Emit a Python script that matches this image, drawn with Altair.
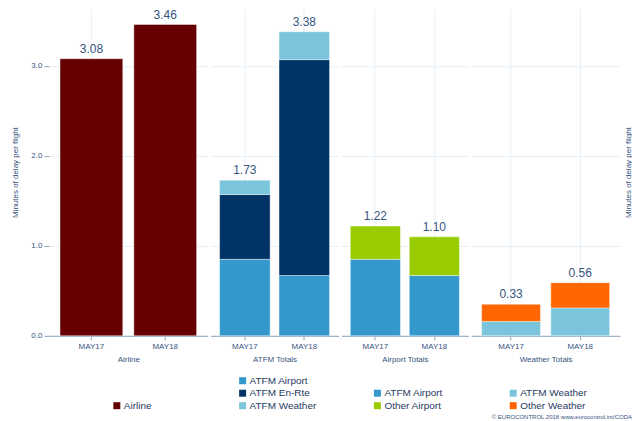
import altair as alt
import pandas as pd

periods = ["MAY17", "MAY18"]
groups = ["Airline", "ATFM Totals", "Airport Totals", "Weather Totals"]

airline = [3.08, 3.46]
atfm_airport = [0.85, 0.67]
atfm_enroute = [0.72, 2.40]
atfm_weather = [0.16, 0.31]
other_airport = [0.37, 0.43]
other_weather = [0.19, 0.28]

airline_labels = [3.08, 3.46]
atfm_labels = [1.73, 3.38]
airport_labels = [1.22, 1.10]
weather_labels = [0.33, 0.56]

C_AIRLINE = "#660000"
C_ATFM_APT = "#3399cc"
C_ENRTE = "#003366"
C_ATFM_WX = "#7ac5dc"
C_OTH_APT = "#99cc00"
C_OTH_WX = "#ff6600"

TXT = "#36547e"
AXC = "#8ea3bd"
GRID = "#e6f0f8"
FONT = "Liberation Sans"


def panel(group, comps, labels, width, legend_x, legend_y, first=False, last=False):
    rows = []
    for i, (name, vals, _c) in enumerate(comps):
        for p, v in zip(periods, vals):
            rows.append({"period": p, "component": name, "value": v, "order": i})
    df = pd.DataFrame(rows)
    tot = df.groupby("period")["value"].sum()
    ldf = pd.DataFrame({"period": periods,
                        "top": [tot[p] for p in periods],
                        "label": labels})

    xenc = alt.X("period:N",
                 scale=alt.Scale(domain=periods, paddingInner=0.15, paddingOuter=0.15),
                 axis=alt.Axis(title=group, labelAngle=0, labelFontSize=8,
                               titleFontSize=8, titleFontWeight="normal",
                               labelColor=TXT, titleColor=TXT,
                               tickSize=4, tickColor=AXC, domainColor=AXC,
                               labelPadding=3, titlePadding=5,
                               grid=True, gridColor=GRID, bandPosition=0.5))
    yscale = alt.Scale(domain=[0, 3.64], nice=False)
    if first:
        yaxis = alt.Axis(values=[0, 1, 2, 3], format=".1f",
                         title="Minutes of delay per flight",
                         titleFontSize=8, titleFontWeight="normal", titleColor=TXT,
                         labelFontSize=8, labelColor=TXT, labelPadding=2,
                         domain=False, tickSize=5, tickColor=AXC,
                         grid=True, gridColor=GRID, titlePadding=11)
    elif last:
        yaxis = alt.Axis(values=[0, 1, 2, 3], orient="right",
                         title="Minutes of delay per flight",
                         titleFontSize=8, titleFontWeight="normal", titleColor=TXT,
                         titleAngle=270, titlePadding=12,
                         labels=False, ticks=False, domain=False,
                         grid=True, gridColor=GRID)
    else:
        yaxis = alt.Axis(values=[0, 1, 2, 3], title=None,
                         labels=False, ticks=False, domain=False,
                         grid=True, gridColor=GRID)

    bars = alt.Chart(df).mark_bar(stroke="white", strokeWidth=0.6, strokeOpacity=0.7).encode(
        x=xenc,
        y=alt.Y("value:Q", stack="zero", scale=yscale, axis=yaxis),
        color=alt.Color("component:N",
                        scale=alt.Scale(domain=[c[0] for c in comps],
                                        range=[c[2] for c in comps]),
                        legend=alt.Legend(orient="none", legendX=legend_x, legendY=legend_y,
                                          title=None, symbolType="square", symbolSize=49,
                                          symbolStrokeWidth=0, labelFontSize=10,
                                          labelColor="#1f3a60", labelFont=FONT,
                                          rowPadding=2.5, padding=0, labelOffset=2)),
        order=alt.Order("order:Q"),
    )
    text = alt.Chart(ldf).mark_text(fontSize=12, color=TXT, baseline="bottom", dy=-3,
                                    font=FONT).encode(
        x=alt.X("period:N", scale=alt.Scale(domain=periods, paddingInner=0.15, paddingOuter=0.15)),
        y=alt.Y("top:Q", scale=yscale),
        text=alt.Text("label:Q", format=".2f"),
    )
    return alt.layer(bars, text).properties(width=width, height=328)


p1 = panel(groups[0], [("Airline", airline, C_AIRLINE)], airline_labels, 159, 63, 393, first=True)
p2 = panel(groups[1], [("ATFM Airport", atfm_airport, C_ATFM_APT),
                       ("ATFM En-Rte", atfm_enroute, C_ENRTE),
                       ("ATFM Weather", atfm_weather, C_ATFM_WX)], atfm_labels, 128, 27, 368)
p3 = panel(groups[2], [("ATFM Airport", atfm_airport, C_ATFM_APT),
                       ("Other Airport", other_airport, C_OTH_APT)], airport_labels, 127, 31, 380.5)
p4 = panel(groups[3], [("ATFM Weather", atfm_weather, C_ATFM_WX),
                       ("Other Weather", other_weather, C_OTH_WX)], weather_labels, 149, 37, 380.5,
           last=True)

chart = alt.hconcat(p1, p2, p3, p4, spacing=3).resolve_scale(
    color="independent", y="independent", x="independent"
).resolve_legend(color="independent").properties(
    title=alt.TitleParams("© EUROCONTROL 2018 www.eurocontrol.int/CODA", orient="bottom",
                          anchor="end", fontSize=6, fontWeight="normal", color=TXT,
                          offset=3, font=FONT),
    padding={"left": 3, "top": 0, "right": 0, "bottom": 0},
).configure(font=FONT).configure_view(stroke=None)

chart.save("out.html", embed_options={"renderer": "svg", "actions": False})
